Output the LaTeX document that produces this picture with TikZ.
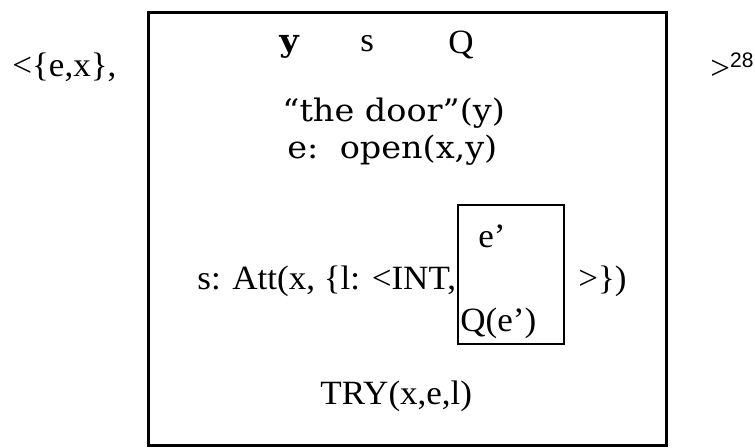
\documentclass[tikz,border=0pt]{standalone}
\usepackage{fontspec}
\setmainfont[FakeStretch=1.03]{Liberation Serif}
\newfontfamily\doorfont[FakeStretch=1.08]{DejaVu Serif}
\newfontfamily\supfont{Liberation Sans}
\tikzset{
    drs/.style={inner sep=0pt,anchor=base west,font=\fontsize{17}{20}\selectfont},
    drsdoor/.style={drs,font=\doorfont\fontsize{15.5}{18}\selectfont},
}
\begin{document}
\begin{tikzpicture}[x=0.5pt,y=-0.5pt]
    \useasboundingbox (0,0) rectangle (755,448);
    \foreach \n/\x/\y in {A/148/13,B/666/13,C/666/446,D/148/446,
                          A_1/458/205,B_1/564/205,C_1/564/344,D_1/458/344}{
        \coordinate (\n) at (\x,\y);
    }
    \draw[line width=1.5pt] (A) -- (B) -- (C) -- (D) -- cycle;
    \draw[line width=1pt] (A_1) -- (B_1) -- (C_1) -- (D_1) -- cycle;
    % universe
    \node[drsdoor,font=\doorfont\bfseries\fontsize{15.5}{18}\selectfont] (y) at (279,52) {y};
    \node[drs] (s) at (360,52) {s};
    \node[drs] (Q) at (448,54) {Q};
    % conditions
    \node[drsdoor] (door) at (282,122) {“the door”(y)};
    \node[drsdoor] (open) at (287,159) {e:~~open(x,y)};
    \node[drs] (att) at (197,290) {s: Att(x, \{l: <INT,};
    \node[drs] (ep) at (478,248) {e’};
    \node[drs] (Qe) at (460,332) {Q(e’)};
    \node[drs] (close) at (578,290) {>\})};
    \node[drs] (try) at (320,405) {TRY(x,e,l)};
    % outside the box
    \node[drs] (pair) at (12,77) {<\{e,x\},};
    \node[drs] (end) at (710,80) {>\textsuperscript{\supfont\fontsize{10.5}{12}\selectfont 28}};
\end{tikzpicture}
\end{document}
